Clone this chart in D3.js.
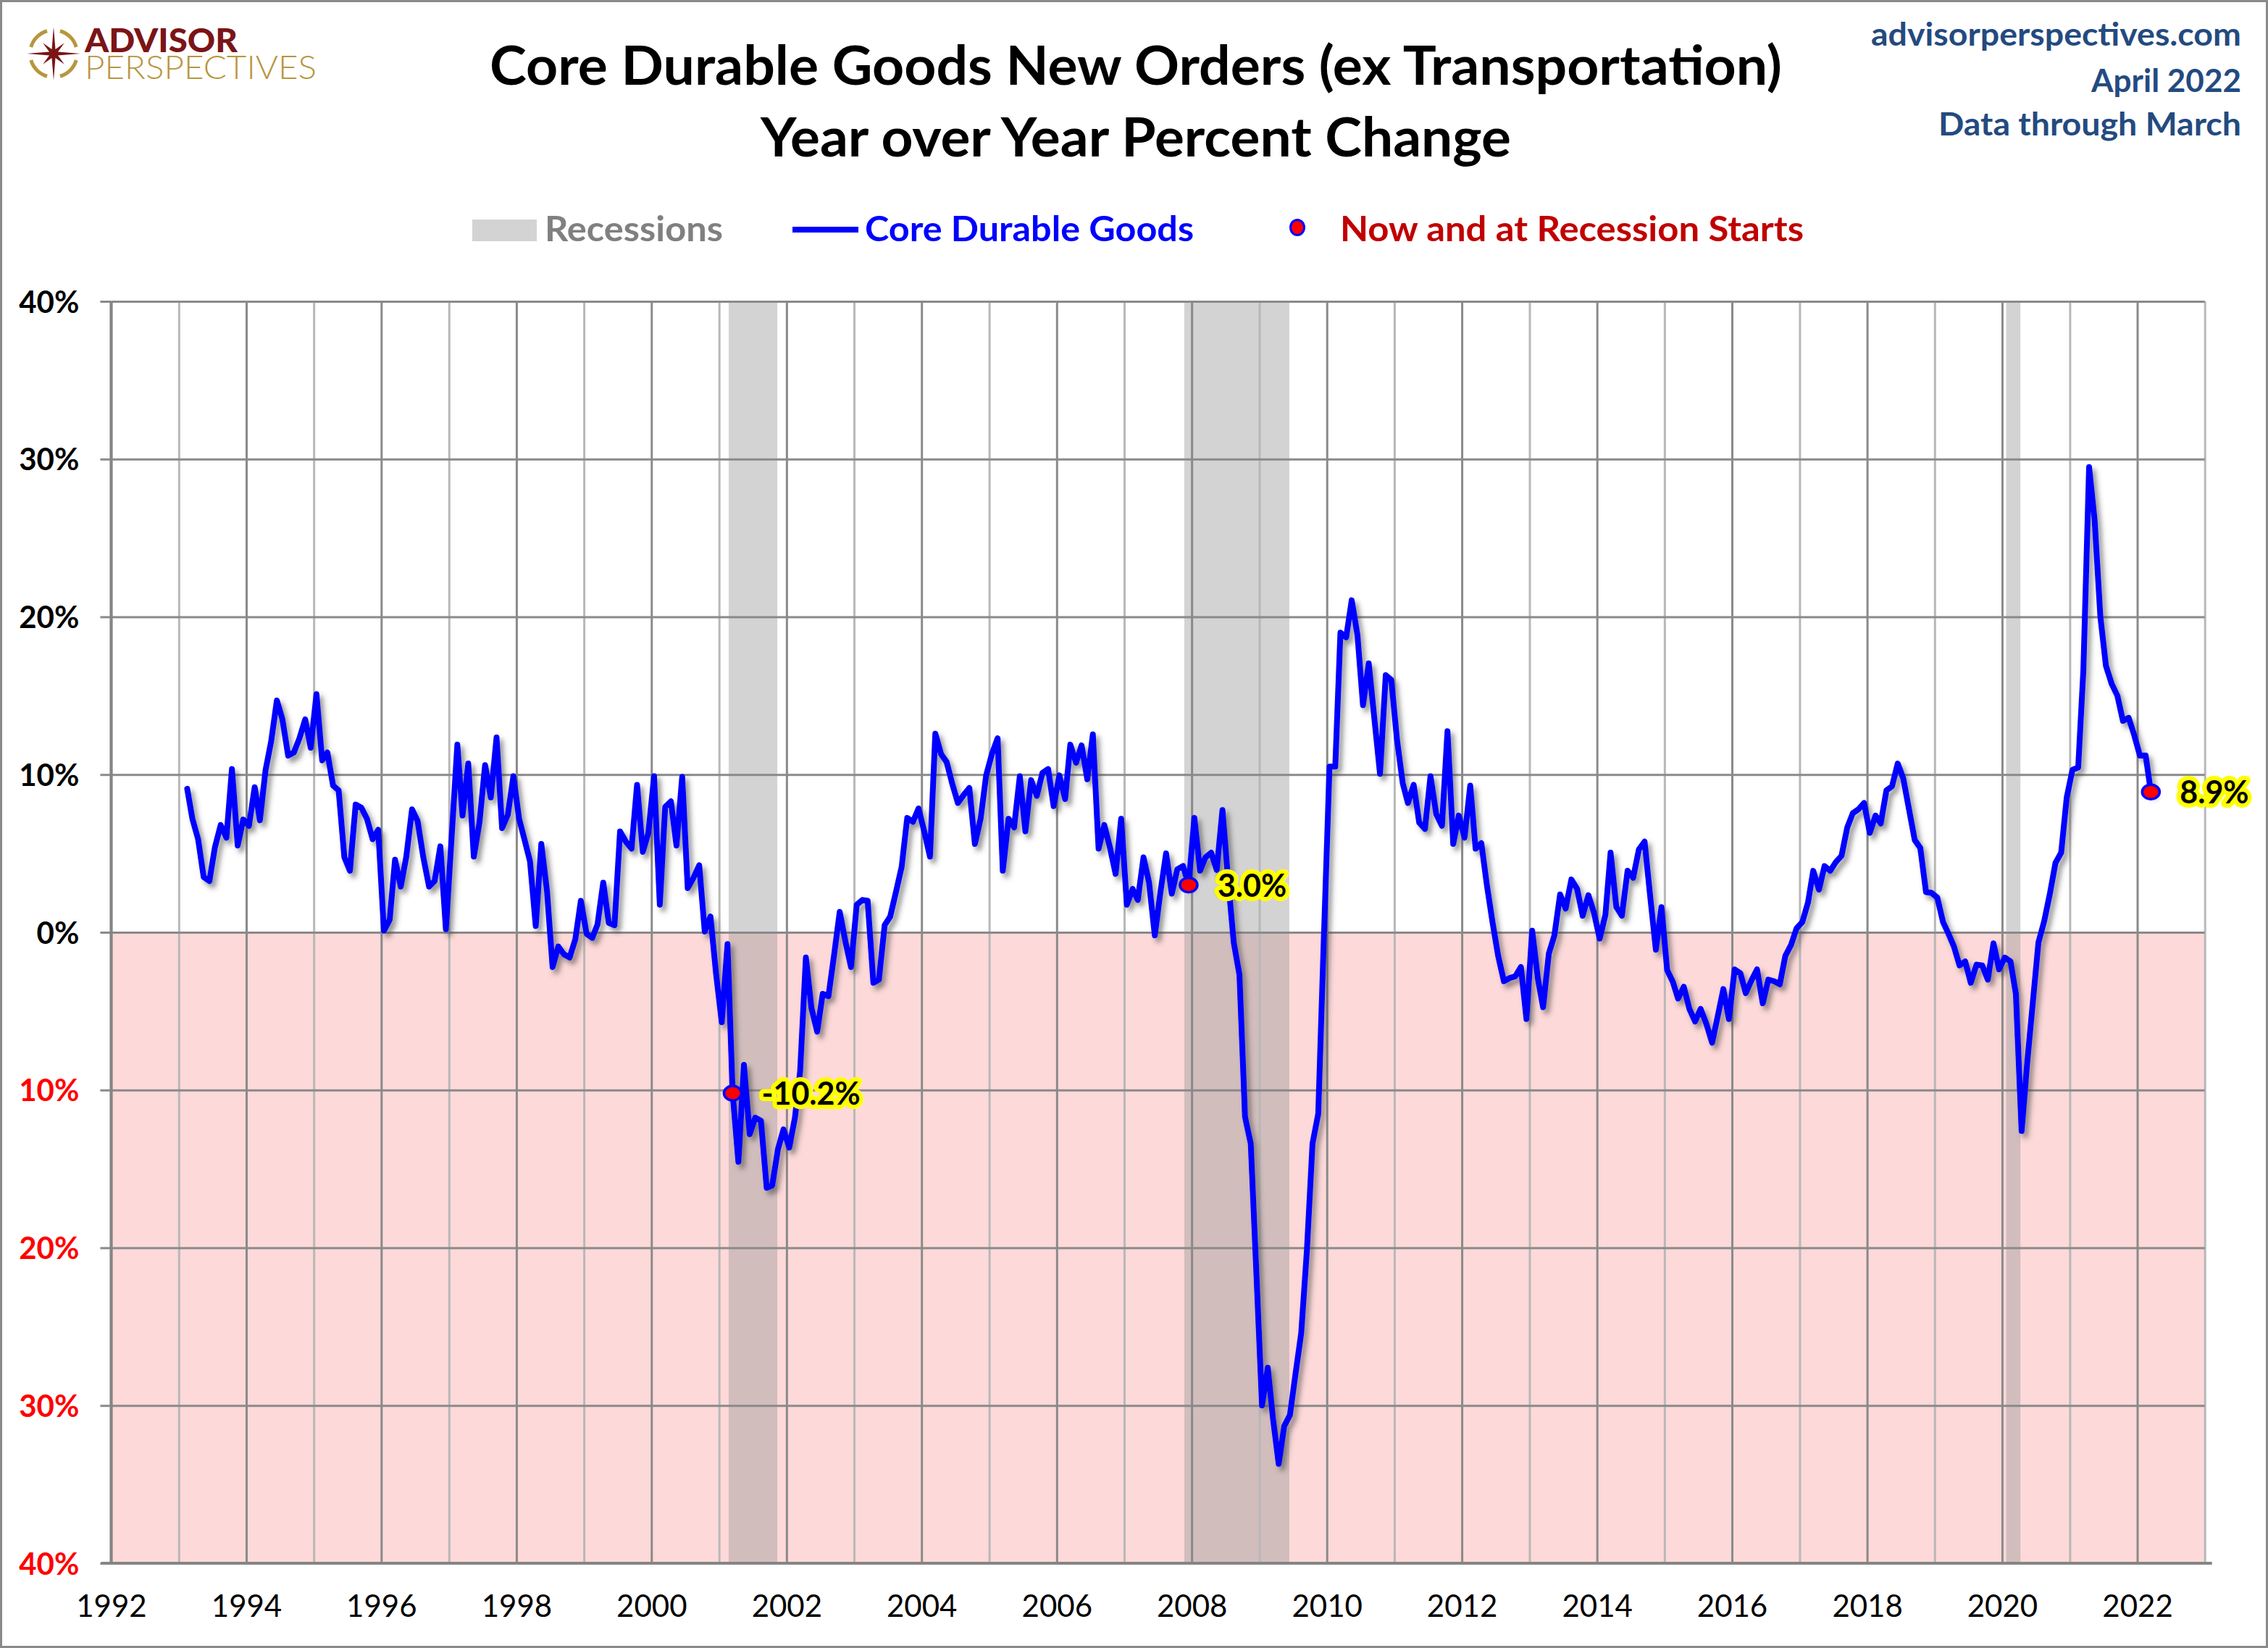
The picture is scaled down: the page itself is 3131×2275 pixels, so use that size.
<!DOCTYPE html>
<html><head><meta charset="utf-8">
<script src="https://cdn.jsdelivr.net/npm/d3@7"></script>
<style>
html,body{margin:0;padding:0;background:#fff;}
svg{display:block;}
</style></head><body>
<svg id="chart" width="3131" height="2275"></svg>
<script>
// ---------------- DATA ----------------
// Monthly year-over-year % change, core durable goods new orders ex transportation,
// first value = February 1993, last value = March 2022.
const seriesStart = [1993, 2]; // year, month of first value
const coreDurableYoY = [
  // 1993 (Feb-Dec)
  9.1, 7.2, 5.9, 3.5, 3.25, 5.4, 6.8, 6.0, 10.35, 5.5, 7.15,
  // 1994
  6.75, 9.2, 7.1, 10.3, 12.1, 14.7, 13.5, 11.2, 11.4, 12.3, 13.5, 11.7,
  // 1995
  15.1, 10.9, 11.4, 9.3, 9.0, 4.75, 3.9, 8.1, 7.9, 7.2, 5.9, 6.5,
  // 1996
  0.1, 0.8, 4.6, 2.9, 4.8, 7.8, 7.05, 4.75, 2.9, 3.25, 5.45, 0.2,
  // 1997
  6.0, 11.9, 7.4, 10.7, 4.8, 7.0, 10.6, 8.55, 12.35, 6.6, 7.45, 9.9,
  // 1998
  7.2, 5.8, 4.5, 0.4, 5.6, 2.6, -2.2, -0.9, -1.4, -1.6, -0.45, 2.0,
  // 1999
  -0.1, -0.35, 0.5, 3.15, 0.6, 0.45, 6.4, 5.75, 5.3, 9.35, 5.1, 6.3,
  // 2000
  9.9, 1.75, 7.95, 8.3, 5.5, 9.85, 2.8, 3.45, 4.25, 0.05, 1.0, -2.6,
  // 2001
  -5.7, -0.75, -10.2, -14.55, -8.4, -12.8, -11.75, -11.95, -16.2, -16.05, -13.75, -12.5,
  // 2002
  -13.65, -11.75, -8.8, -1.6, -4.8, -6.3, -3.9, -4.05, -1.4, 1.3, -0.6, -2.2,
  // 2003
  1.75, 2.05, 2.0, -3.2, -3.0, 0.45, 1.0, 2.55, 4.15, 7.25, 7.0, 7.85,
  // 2004
  6.4, 4.8, 12.6, 11.3, 10.8, 9.4, 8.2, 8.7, 9.15, 5.6, 7.2, 9.95,
  // 2005
  11.3, 12.3, 3.9, 7.2, 6.65, 9.9, 6.4, 9.65, 8.65, 10.1, 10.35, 8.0,
  // 2006
  9.95, 8.45, 11.9, 10.75, 11.85, 9.7, 12.55, 5.3, 6.8, 5.4, 3.7, 7.2,
  // 2007
  1.75, 2.75, 2.05, 4.75, 3.15, -0.2, 2.5, 5.0, 2.45, 4.0, 4.2, 3.0,
  // 2008
  7.25, 3.9, 4.75, 5.05, 3.95, 7.75, 3.4, -0.65, -2.7, -11.7, -13.4, -21.5,
  // 2009
  -30.0, -27.6, -30.8, -33.7, -31.3, -30.6, -28.0, -25.4, -20.1, -13.4, -11.5, -0.5,
  // 2010
  10.5, 10.5, 19.0, 18.7, 21.05, 18.85, 14.4, 17.05, 13.5, 10.05, 16.3, 16.0,
  // 2011
  12.2, 9.45, 8.2, 9.35, 6.95, 6.55, 9.9, 7.5, 6.75, 12.75, 5.6, 7.4,
  // 2012
  6.0, 9.3, 5.3, 5.65, 3.0, 0.6, -1.5, -3.1, -2.9, -2.8, -2.2, -5.5,
  // 2013
  0.1, -2.95, -4.75, -1.35, -0.2, 2.4, 1.5, 3.35, 2.75, 1.05, 2.35, 1.25,
  // 2014
  -0.4, 1.1, 5.05, 1.6, 1.05, 3.9, 3.45, 5.25, 5.75, 2.3, -1.1, 1.6,
  // 2015
  -2.4, -3.15, -4.2, -3.45, -4.85, -5.65, -4.85, -5.8, -7.0, -5.35, -3.6, -5.5,
  // 2016
  -2.35, -2.6, -3.85, -3.05, -2.35, -4.5, -3.0, -3.1, -3.3, -1.5, -0.8, 0.25,
  // 2017
  0.65, 1.9, 3.9, 2.7, 4.2, 3.9, 4.45, 4.85, 6.65, 7.55, 7.8, 8.2,
  // 2018
  6.3, 7.4, 6.9, 9.0, 9.25, 10.7, 9.75, 7.8, 5.85, 5.35, 2.55, 2.5,
  // 2019
  2.2, 0.65, -0.05, -0.9, -2.1, -1.85, -3.2, -2.05, -2.1, -3.0, -0.7, -2.35,
  // 2020
  -1.6, -1.85, -3.9, -12.6, -8.3, -4.4, -0.65, 0.7, 2.45, 4.4, 5.05, 8.55,
  // 2021
  10.3, 10.45, 16.6, 29.5, 26.1, 20.0, 16.9, 15.75, 15.0, 13.4, 13.6, 12.5,
  // 2022 (Jan-Mar)
  11.2, 11.2, 8.9
];
// Recession shading as drawn on the chart (approximate band edges)
const recessionBands = [
  ["2001-02-22", "2001-11-12"],
  ["2007-11-22", "2009-06-12"],
  ["2020-01-23", "2020-04-09"]
];
// Highlighted months: "now" and recession starts
const highlightMonths = ["2001-03", "2007-12", "2022-03"];
const highlightLabels = ["-10.2%", "3.0%", "8.9%"];
// Axes
const yTickValues = [-40, -30, -20, -10, 0, 10, 20, 30, 40];
const xDomainYears = [1992, 2023];
const xLabelYears = [1992, 1994, 1996, 1998, 2000, 2002, 2004, 2006, 2008, 2010, 2012, 2014, 2016, 2018, 2020, 2022];
// Texts
const titleLines = ["Core Durable Goods New Orders (ex Transportation)", "Year over Year Percent Change"];
const sourceLines = ["advisorperspectives.com", "April 2022", "Data through March"];
const legendLabels = ["Recessions", "Core Durable Goods", "Now and at Recession Starts"];
const logoWords = ["ADVISOR", "PERSPECTIVES"];

// ---------------- LAYOUT ----------------
const W = 3131, H = 2275;
const plot = {left: 153.4, right: 3043.7, top: 416, bottom: 2158};
const FONT = "Lato, 'Open Sans', sans-serif";

const svg = d3.select("#chart");
svg.append("rect").attr("width", W).attr("height", H).attr("fill", "#fff");

const defs = svg.append("defs");
const sh = defs.append("filter").attr("id", "lineShadow")
  .attr("x", "-5%").attr("y", "-5%").attr("width", "110%").attr("height", "110%");
sh.append("feDropShadow").attr("dx", 5).attr("dy", 6).attr("stdDeviation", 3.5)
  .attr("flood-color", "#404040").attr("flood-opacity", 0.55);

// data objects
const data = coreDurableYoY.map((v, i) => ({
  date: new Date(seriesStart[0], seriesStart[1] - 1 + i, 15, 12),
  value: v
}));
const monthKey = d => d3.timeFormat("%Y-%m")(d);

const x = d3.scaleTime()
  .domain([new Date(xDomainYears[0], 0, 1), new Date(xDomainYears[1], 0, 1)])
  .range([plot.left, plot.right]);
const y = d3.scaleLinear().domain([-40, 40]).range([plot.bottom, plot.top]);

// negative zone
svg.append("rect")
  .attr("x", plot.left).attr("y", y(0))
  .attr("width", plot.right - plot.left).attr("height", y(-40) - y(0))
  .attr("fill", "#fdd9d9");

// recession bands
svg.append("g").selectAll("rect").data(recessionBands).join("rect")
  .attr("x", d => x(new Date(d[0] + "T00:00:00")))
  .attr("width", d => x(new Date(d[1] + "T00:00:00")) - x(new Date(d[0] + "T00:00:00")))
  .attr("y", plot.top).attr("height", plot.bottom - plot.top)
  .attr("fill", "rgb(150,150,150)").attr("fill-opacity", 0.42);

// vertical gridlines (every year)
const xGrid = svg.append("g").attr("transform", `translate(0,${plot.bottom})`)
  .call(d3.axisBottom(x).ticks(d3.timeYear.every(1)).tickSize(-(plot.bottom - plot.top)).tickFormat(""));
xGrid.select(".domain").remove();
xGrid.selectAll(".tick line")
  .attr("stroke", d => d.getFullYear() % 2 === 0 ? "#8a8a8a" : "#b8b8b8")
  .attr("stroke-width", 3);

// horizontal gridlines
const yGrid = svg.append("g").attr("transform", `translate(${plot.left},0)`)
  .call(d3.axisLeft(y).tickValues(yTickValues).tickSize(-(plot.right - plot.left)).tickFormat(""));
yGrid.select(".domain").remove();
yGrid.selectAll(".tick line").attr("stroke", "#8a8a8a").attr("stroke-width", 3);

// y axis (ticks + labels)
const yAxis = svg.append("g").attr("transform", `translate(${plot.left},0)`)
  .call(d3.axisLeft(y).tickValues(yTickValues).tickSize(15).tickPadding(29)
    .tickFormat(d => Math.abs(d) + "%"));
yAxis.select(".domain").remove();
yAxis.selectAll(".tick line").attr("stroke", "#8a8a8a").attr("stroke-width", 3);
yAxis.selectAll(".tick text")
  .attr("font-family", FONT).attr("font-weight", 700).attr("font-size", 42)
  .attr("fill", d => d < 0 ? "#ff0000" : "#000")
  .attr("dy", "0.36em");

// y axis line
svg.append("line").attr("x1", plot.left).attr("x2", plot.left)
  .attr("y1", plot.top).attr("y2", plot.bottom)
  .attr("stroke", "#858585").attr("stroke-width", 4);

// x axis labels
const xAxis = svg.append("g").attr("transform", `translate(0,${plot.bottom})`)
  .call(d3.axisBottom(x).tickValues(xLabelYears.map(yr => new Date(yr, 0, 1)))
    .tickSize(0).tickFormat(d3.timeFormat("%Y")));
xAxis.select(".domain").remove();
xAxis.selectAll(".tick text")
  .attr("font-family", FONT).attr("font-weight", 400).attr("font-size", 42)
  .attr("fill", "#000").attr("y", 74).attr("dy", 0);

// x axis line
svg.append("line").attr("x1", plot.left - 14).attr("x2", plot.right + 10)
  .attr("y1", plot.bottom).attr("y2", plot.bottom)
  .attr("stroke", "#858585").attr("stroke-width", 4);

// main line
const line = d3.line().x(d => x(d.date)).y(d => y(d.value)).curve(d3.curveLinear);
svg.append("path").datum(data)
  .attr("d", line)
  .attr("fill", "none").attr("stroke", "#0000ff").attr("stroke-width", 8)
  .attr("stroke-linejoin", "round").attr("stroke-linecap", "round")
  .attr("filter", "url(#lineShadow)");

// highlighted points
const hl = highlightMonths.map((m, i) => {
  const d = data.find(p => monthKey(p.date) === m);
  return {date: d.date, value: d.value, label: highlightLabels[i]};
});
const hg = svg.append("g");
hg.selectAll("ellipse").data(hl).join("ellipse")
  .attr("cx", d => x(d.date)).attr("cy", d => y(d.value))
  .attr("rx", 12).attr("ry", 10)
  .attr("fill", "#ff0000").attr("stroke", "#0000ff").attr("stroke-width", 3.5);
hg.selectAll("text").data(hl).join("text")
  .attr("x", d => x(d.date) + 40).attr("y", d => y(d.value) + 16)
  .attr("font-family", FONT).attr("font-weight", 700).attr("font-size", 43)
  .attr("fill", "#000").attr("stroke", "#ffff00").attr("stroke-width", 12)
  .attr("stroke-linejoin", "round").attr("paint-order", "stroke")
  .text(d => d.label);

// ---------------- TITLES ----------------
function fitText(sel, width) {
  sel.attr("textLength", width).attr("lengthAdjust", "spacingAndGlyphs");
}
const t1 = svg.append("text").attr("x", 1568).attr("y", 117).attr("text-anchor", "middle")
  .attr("font-family", FONT).attr("font-weight", 700).attr("font-size", 74).attr("fill", "#000")
  .text(titleLines[0]);
fitText(t1, 1784);
const t2 = svg.append("text").attr("x", 1568).attr("y", 216).attr("text-anchor", "middle")
  .attr("font-family", FONT).attr("font-weight", 700).attr("font-size", 74).attr("fill", "#000")
  .text(titleLines[1]);
fitText(t2, 1036);

// source lines top right
const srcY = [63, 127, 187], srcW = [511, 207, 418];
sourceLines.forEach((s, i) => {
  const t = svg.append("text").attr("x", 3094).attr("y", srcY[i]).attr("text-anchor", "end")
    .attr("font-family", FONT).attr("font-weight", 700).attr("font-size", 43).attr("fill", "#244a80")
    .text(s);
  fitText(t, srcW[i]);
});

// ---------------- LEGEND ----------------
const lg = svg.append("g");
lg.append("rect").attr("x", 652).attr("y", 303).attr("width", 89).attr("height", 30).attr("fill", "#d3d3d3");
const lt1 = lg.append("text").attr("x", 752).attr("y", 333).attr("font-family", FONT).attr("font-weight", 700)
  .attr("font-size", 48).attr("fill", "#808080").text(legendLabels[0]);
fitText(lt1, 246);
lg.append("line").attr("x1", 1094).attr("x2", 1185).attr("y1", 317).attr("y2", 317)
  .attr("stroke", "#0000ff").attr("stroke-width", 8);
const lt2 = lg.append("text").attr("x", 1194).attr("y", 333).attr("font-family", FONT).attr("font-weight", 700)
  .attr("font-size", 48).attr("fill", "#0000ff").text(legendLabels[1]);
fitText(lt2, 454);
lg.append("ellipse").attr("cx", 1791).attr("cy", 314).attr("rx", 9.5).attr("ry", 10.5)
  .attr("fill", "#ff0000").attr("stroke", "#0000ff").attr("stroke-width", 3);
const lt3 = lg.append("text").attr("x", 1850).attr("y", 333).attr("font-family", FONT).attr("font-weight", 700)
  .attr("font-size", 48).attr("fill", "#c00000").text(legendLabels[2]);
fitText(lt3, 640);

// ---------------- LOGO ----------------
const logo = svg.append("g").attr("transform", "translate(74,74)");
const ringArc = d3.arc().innerRadius(30).outerRadius(35);
const gap = 0.28;
for (let k = 0; k < 4; k++) {
  logo.append("path")
    .attr("d", ringArc({startAngle: k * Math.PI / 2 + gap, endAngle: (k + 1) * Math.PI / 2 - gap}))
    .attr("fill", "#b8963e");
}
const starPts = [];
for (let k = 0; k < 16; k++) {
  const a = k * Math.PI / 8 - Math.PI / 2;
  let r;
  if (k % 2 === 1) r = 6.5;
  else if (k % 4 === 0) r = 37;
  else r = 21;
  starPts.push([Math.cos(a) * r, Math.sin(a) * r]);
}
logo.append("path").attr("d", "M" + starPts.map(p => p.join(",")).join("L") + "Z").attr("fill", "#7b1416");
// logo words: tall, tightly stacked caps (vertically stretched small type)
const vStretch = 1.7;
svg.append("text").attr("transform", `translate(117,72) scale(1,${vStretch})`)
  .attr("font-family", FONT).attr("font-weight", 900)
  .attr("font-size", 46 / vStretch).attr("fill", "#7b1416")
  .attr("textLength", 211).attr("lengthAdjust", "spacingAndGlyphs").text(logoWords[0]);
svg.append("text").attr("transform", `translate(117,109) scale(1,${vStretch})`)
  .attr("font-family", FONT).attr("font-weight", 300)
  .attr("font-size", 45 / vStretch).attr("fill", "#b8963e")
  .attr("textLength", 320).attr("lengthAdjust", "spacingAndGlyphs").text(logoWords[1]);

// outer border
svg.append("rect").attr("x", 1.5).attr("y", 1.5).attr("width", W - 3).attr("height", H - 3)
  .attr("fill", "none").attr("stroke", "#8a8a8a").attr("stroke-width", 3);
</script>
</body></html>
